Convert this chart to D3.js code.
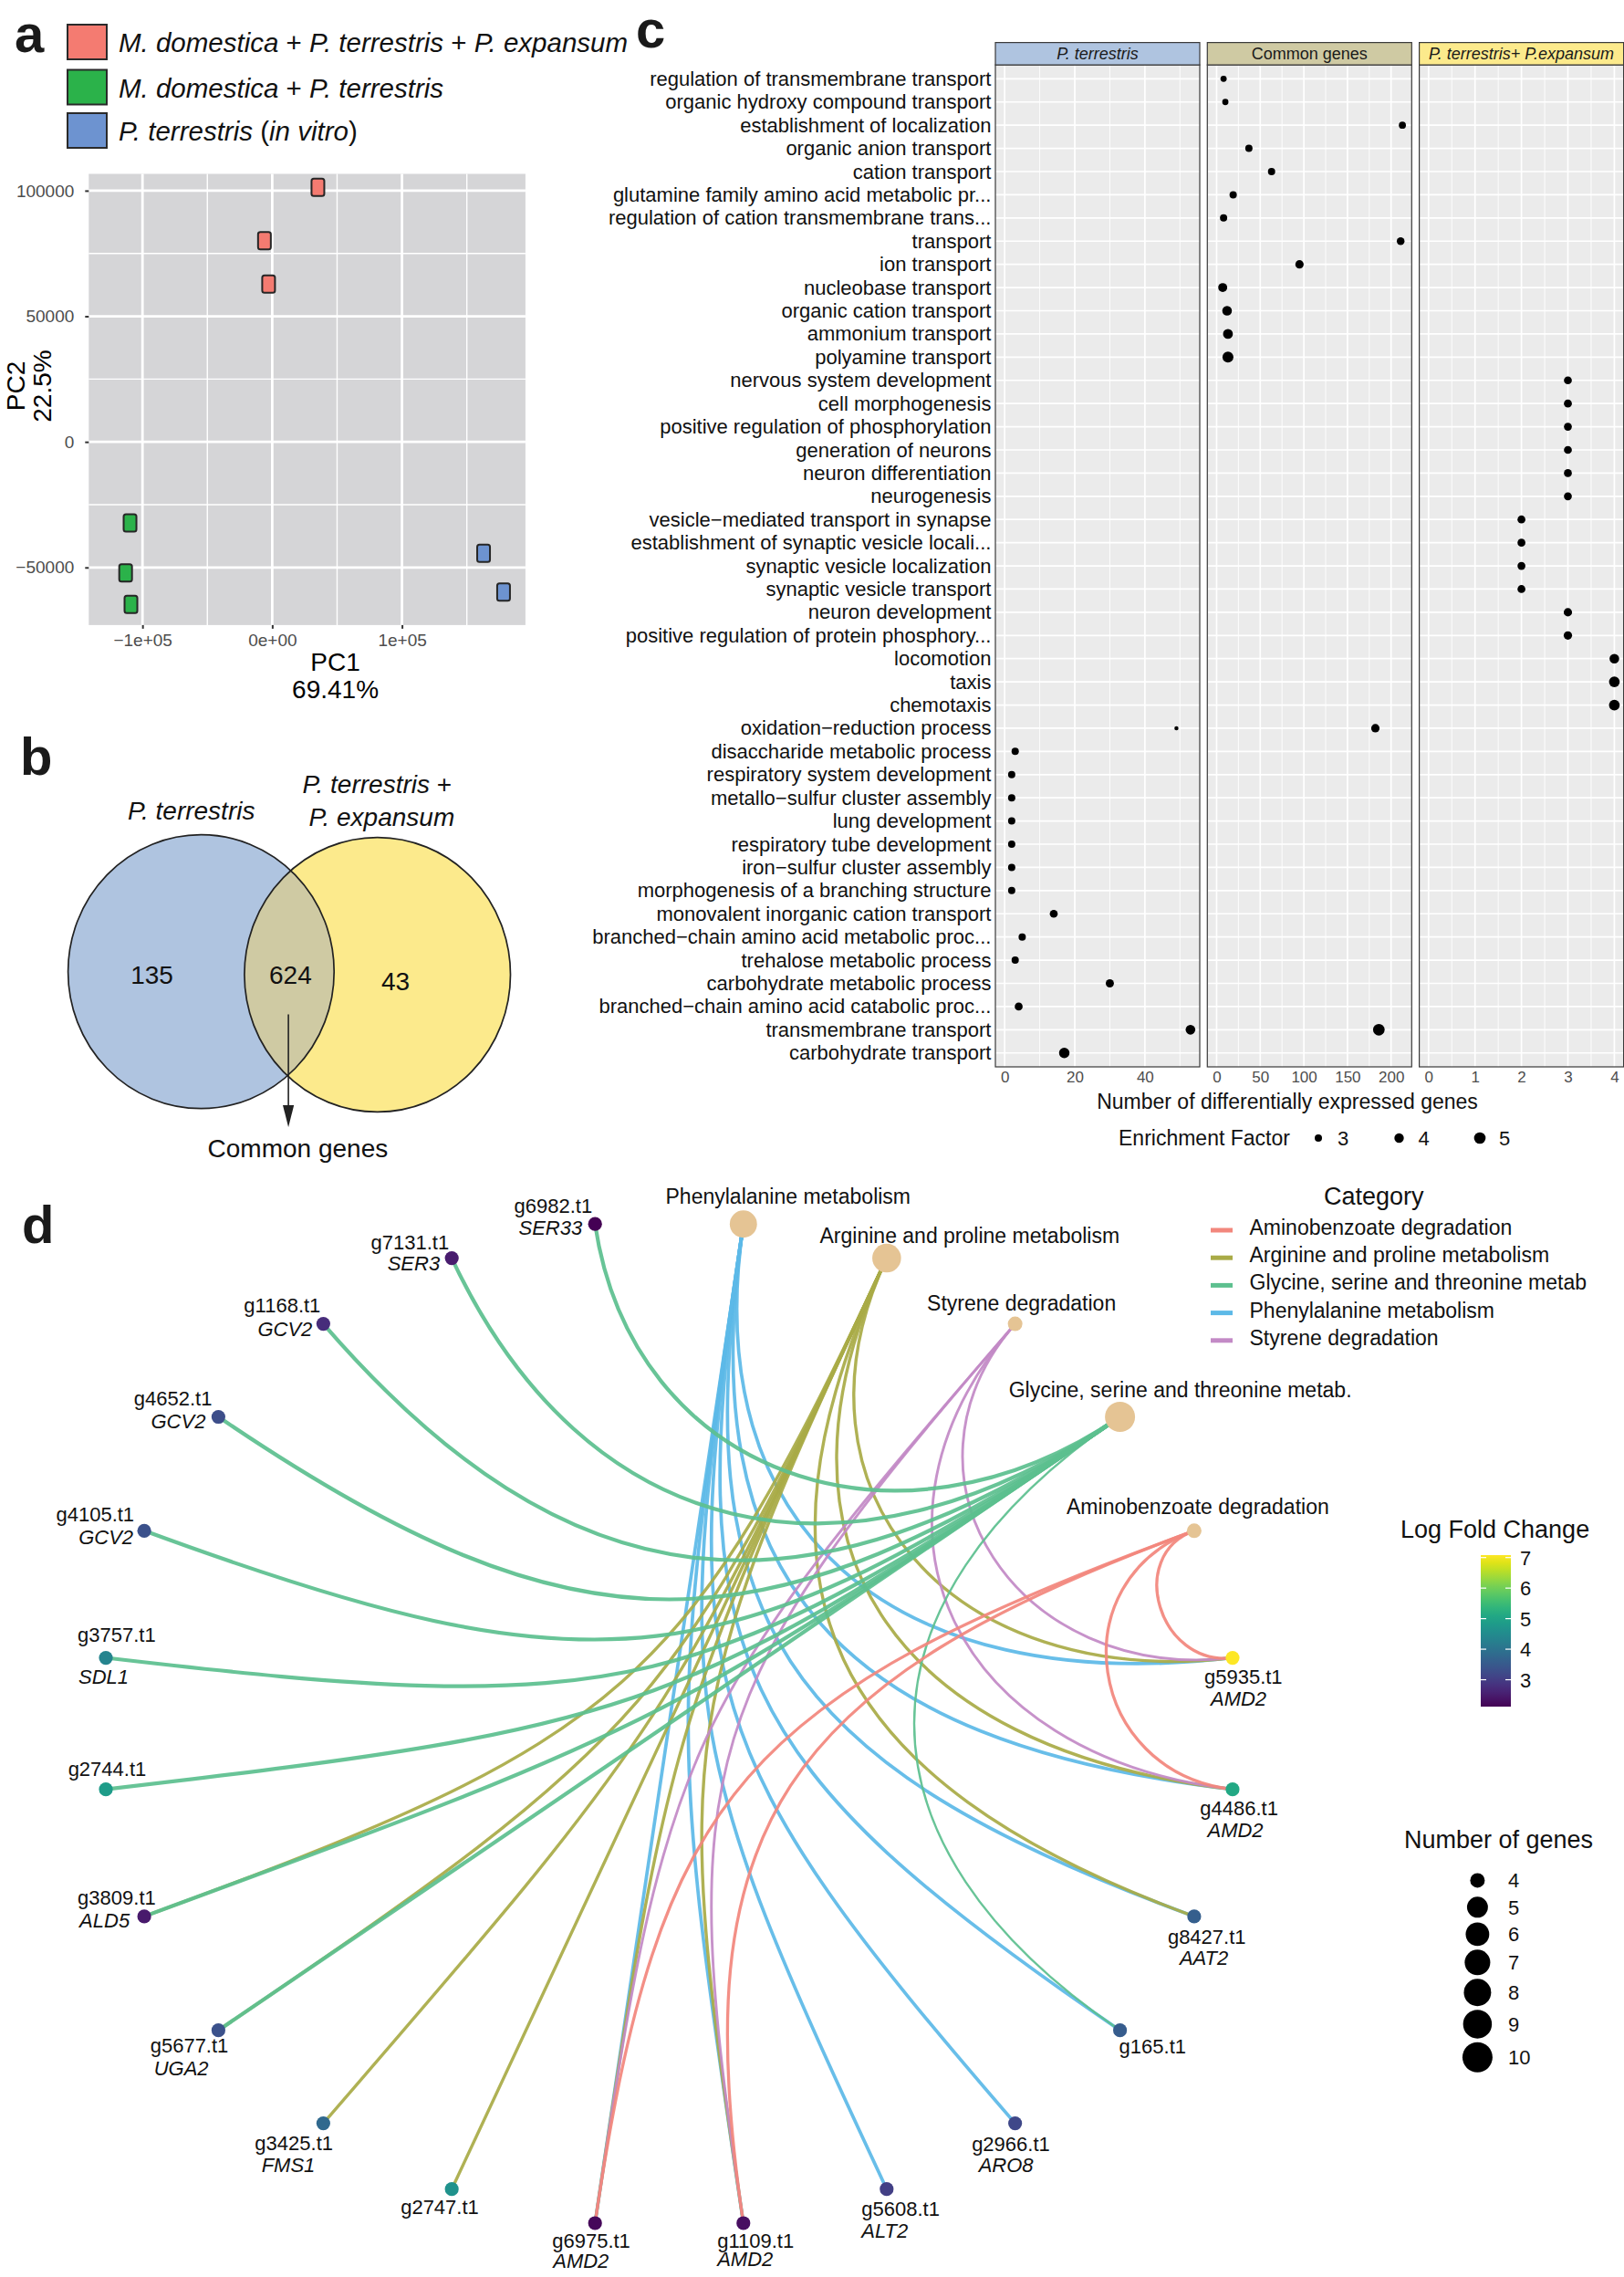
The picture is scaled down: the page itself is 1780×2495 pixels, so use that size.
<!DOCTYPE html>
<html>
<head>
<meta charset="utf-8">
<script src="https://cdn.jsdelivr.net/npm/d3@7"></script>
<style>
html,body{margin:0;padding:0;background:#fff;}
svg{display:block;}
</style>
</head>
<body>
<script>
// ======================= DATA =======================
// --- Panel a: PCA ---
const pcaGroupNames = ["*M. domestica* + *P. terrestris* + *P. expansum*", "*M. domestica* + *P. terrestris*", "*P. terrestris* (*in vitro*)"];
const pcaSampleGroup = [0, 0, 0, 1, 1, 1, 2, 2];
const pcaPC1 = [35200, -6000, -2800, -109600, -113000, -108900, 162900, 178300];
const pcaPC2 = [101300, 80100, 62800, -32300, -52200, -64700, -44400, -59800];
const pcaXTicks = [-100000, 0, 100000];
const pcaXTickLabels = ["\u22121e+05", "0e+00", "1e+05"];
const pcaYTicks = [-50000, 0, 50000, 100000];
const pcaYTickLabels = ["\u221250000", "0", "50000", "100000"];
const pcaXMinor = [-50000, 50000, 150000];
const pcaYMinor = [-25000, 25000, 75000];
const pcaXLimits = [-141400, 195150];
const pcaYLimits = [-72930, 106690];
const pcaXTitle = ["PC1", "69.41%"];
const pcaYTitle = ["PC2", "22.5%"];

// --- Panel b: Venn ---
const vennSetLabels = [["*P. terrestris*"], ["*P. terrestris* +", "*P. expansum*"]];
const vennCounts = [135, 624, 43];   // only left, shared, only right
const vennArrowLabel = "Common genes";

// --- Panel c: GO enrichment dot plot ---
const goTerms = [
"regulation of transmembrane transport","organic hydroxy compound transport","establishment of localization",
"organic anion transport","cation transport","glutamine family amino acid metabolic pr...",
"regulation of cation transmembrane trans...","transport","ion transport","nucleobase transport",
"organic cation transport","ammonium transport","polyamine transport","nervous system development",
"cell morphogenesis","positive regulation of phosphorylation","generation of neurons","neuron differentiation",
"neurogenesis","vesicle\u2212mediated transport in synapse","establishment of synaptic vesicle locali...",
"synaptic vesicle localization","synaptic vesicle transport","neuron development",
"positive regulation of protein phosphory...","locomotion","taxis","chemotaxis",
"oxidation\u2212reduction process","disaccharide metabolic process","respiratory system development",
"metallo\u2212sulfur cluster assembly","lung development","respiratory tube development",
"iron\u2212sulfur cluster assembly","morphogenesis of a branching structure","monovalent inorganic cation transport",
"branched\u2212chain amino acid metabolic proc...","trehalose metabolic process","carbohydrate metabolic process",
"branched\u2212chain amino acid catabolic proc...","transmembrane transport","carbohydrate transport"];
const facetNames = ["P. terrestris", "Common genes", "P. terrestris+ P.expansum"];
const facetItalic = [true, false, true];
const facetTicks = [[0, 20, 40], [0, 50, 100, 150, 200], [0, 1, 2, 3, 4]];
// P. terrestris facet
const ptTerms = ["oxidation\u2212reduction process","disaccharide metabolic process","respiratory system development",
"metallo\u2212sulfur cluster assembly","lung development","respiratory tube development","iron\u2212sulfur cluster assembly",
"morphogenesis of a branching structure","monovalent inorganic cation transport","branched\u2212chain amino acid metabolic proc...",
"trehalose metabolic process","carbohydrate metabolic process","branched\u2212chain amino acid catabolic proc...",
"transmembrane transport","carbohydrate transport"];
const ptCounts = [49, 3, 2, 2, 2, 2, 2, 2, 14, 5, 3, 30, 4, 53, 17];
const ptEF = [1.5, 3.0, 3.0, 3.0, 3.0, 3.0, 3.0, 3.0, 3.3, 3.0, 3.0, 3.4, 3.3, 4.1, 4.5];
// Common genes facet
const cgTerms = ["regulation of transmembrane transport","organic hydroxy compound transport","establishment of localization",
"organic anion transport","cation transport","glutamine family amino acid metabolic pr...",
"regulation of cation transmembrane trans...","transport","ion transport","nucleobase transport",
"organic cation transport","ammonium transport","polyamine transport","oxidation\u2212reduction process","transmembrane transport"];
const cgCounts = [8, 10, 213, 37, 63, 19, 8, 211, 95, 7, 12, 13, 13, 182, 186];
const cgEF = [2.5, 2.5, 2.9, 3.0, 3.0, 3.0, 3.0, 3.2, 3.5, 3.8, 4.1, 4.2, 4.7, 3.5, 5.0];
// P. terrestris + P. expansum facet
const peTerms = ["nervous system development","cell morphogenesis","positive regulation of phosphorylation",
"generation of neurons","neuron differentiation","neurogenesis","vesicle\u2212mediated transport in synapse",
"establishment of synaptic vesicle locali...","synaptic vesicle localization","synaptic vesicle transport",
"neuron development","positive regulation of protein phosphory...","locomotion","taxis","chemotaxis"];
const peCounts = [3, 3, 3, 3, 3, 3, 2, 2, 2, 2, 3, 3, 4, 4, 4];
const peEF = [3.3, 3.3, 3.3, 3.3, 3.3, 3.3, 3.3, 3.3, 3.3, 3.3, 3.5, 3.5, 4.1, 4.6, 4.6];
const efLegendBreaks = [3, 4, 5];
const goXTitle = "Number of differentially expressed genes";
const efLegendTitle = "Enrichment Factor";

// --- Panel d: KEGG gene-concept network ---
const keggCategories = ["Phenylalanine metabolism", "Arginine and proline metabolism", "Styrene degradation",
  "Glycine, serine and threonine metab.", "Aminobenzoate degradation"];
const keggCategorySize = [8, 9, 4, 10, 4];
const geneIds = ["g5935.t1","g4486.t1","g8427.t1","g165.t1","g2966.t1","g5608.t1","g1109.t1","g6975.t1",
  "g2747.t1","g3425.t1","g5677.t1","g3809.t1","g2744.t1","g3757.t1","g4105.t1","g4652.t1","g1168.t1","g7131.t1","g6982.t1"];
const geneSymbols = ["AMD2","AMD2","AAT2","","ARO8","ALT2","AMD2","AMD2",
  "","FMS1","UGA2","ALD5","","SDL1","GCV2","GCV2","GCV2","SER3","SER33"];
const geneLogFC = [7.08, 5.1, 3.6, 3.55, 3.2, 3.05, 2.3, 2.2,
  4.65, 3.8, 3.35, 2.45, 4.85, 4.35, 3.35, 3.3, 2.75, 2.5, 2.12];
const keggGenes = [
  ["g5935.t1","g4486.t1","g8427.t1","g165.t1","g2966.t1","g5608.t1","g1109.t1","g6975.t1"],
  ["g5935.t1","g4486.t1","g8427.t1","g1109.t1","g6975.t1","g2747.t1","g3425.t1","g5677.t1","g3809.t1"],
  ["g5935.t1","g4486.t1","g1109.t1","g6975.t1"],
  ["g165.t1","g5677.t1","g3809.t1","g2744.t1","g3757.t1","g4105.t1","g4652.t1","g1168.t1","g7131.t1","g6982.t1"],
  ["g5935.t1","g4486.t1","g1109.t1","g6975.t1"]];
const categoryLegendLabels = ["Aminobenzoate degradation", "Arginine and proline metabolism",
  "Glycine, serine and threonine metab", "Phenylalanine metabolism", "Styrene degradation"];
const categoryLegendIndex = [4, 1, 3, 0, 2];
const lfcTicks = [3, 4, 5, 6, 7];
const sizeLegendBreaks = [4, 5, 6, 7, 8, 9, 10];

// ======================= STYLE / LAYOUT =======================
const FONT = "'Liberation Sans', Arial, Helvetica, sans-serif";
const pcaColors = ["#F47B71", "#2BB24A", "#6D93D0"];
const vennColors = {left: "#AFC4E0", right: "#FCEA8C", both: "#CFCAA3"};
const facetStripColors = ["#AFC4E0", "#CFCAA3", "#FCEA8C"];
const catColors = ["#5DB9E7", "#A9AB47", "#C38AC6", "#5DC08F", "#F2877D"];
const catWidths = [3.7, 3.4, 2.9, 4.2, 3.3];
const thinEdges = [["Glycine, serine and threonine metab.", "g165.t1"]];
const catNodeColor = "#E5C494";

const catLabelLayout = [[49, -22.5], [91, -17], [7, -14.6], [66, -22], [4, -18.4]];
const geneLabelLayout = {
 "g5935.t1": {a:"start", id:[-31,28.8], nm:[-24,52.5]},
 "g4486.t1": {a:"start", id:[-35.7,28.6], nm:[-27.5,52]},
 "g8427.t1": {a:"start", id:[-29,30.6], nm:[-16,53]},
 "g165.t1":  {a:"start", id:[-1,25.6]},
 "g2966.t1": {a:"start", id:[-47.5,30.7], nm:[-40,53]},
 "g5608.t1": {a:"start", id:[-27.5,29.4], nm:[-27.5,53]},
 "g1109.t1": {a:"start", id:[-28.6,26.6], nm:[-28.6,47.5]},
 "g6975.t1": {a:"start", id:[-47,27.4], nm:[-46,49.5]},
 "g2747.t1": {a:"start", id:[-56,27]},
 "g3425.t1": {a:"start", id:[-75,29.5], nm:[-67.7,53]},
 "g5677.t1": {a:"start", id:[-74.7,24.8], nm:[-70.7,49]},
 "g3809.t1": {a:"start", id:[-73,-12.5], nm:[-71,12]},
 "g2744.t1": {a:"start", id:[-41.4,-14.5]},
 "g3757.t1": {a:"start", id:[-31,-17.6], nm:[-30,28]},
 "g4105.t1": {a:"end", id:[-11,-10], nm:[-12,15]},
 "g4652.t1": {a:"end", id:[-7,-13], nm:[-14,12.7]},
 "g1168.t1": {a:"end", id:[-3,-13], nm:[-12,13]},
 "g7131.t1": {a:"end", id:[-3,-10], nm:[-13,13.5]},
 "g6982.t1": {a:"end", id:[-3,-12], nm:[-14,12]}
};

// ======================= DRAW =======================
const svg = d3.select("body").append("svg").attr("width", 1780).attr("height", 2495)
  .style("font-family", FONT);
svg.append("rect").attr("width", 1780).attr("height", 2495).attr("fill", "#fff");
const defs = svg.append("defs");

function rich(g, str, attrs) {
  const t = g.append("text");
  Object.entries(attrs).forEach(([k, v]) => t.attr(k, v));
  str.split("*").forEach((s, i) => { if (s.length) t.append("tspan").attr("font-style", i % 2 ? "italic" : "normal").text(s); });
  return t;
}
function letter(t, x, y) {
  svg.append("text").attr("x", x).attr("y", y).attr("font-size", 58).attr("font-weight", "bold")
    .attr("fill", "#1a1a1a").text(t);
}
letter("a", 16, 57); letter("b", 22, 849); letter("c", 697, 52); letter("d", 24, 1362);

// ---------- Panel a ----------
(function () {
  const g = svg.append("g");
  const P = {l: 97.3, r: 575.9, t: 190.5, b: 684.9};
  const x = d3.scaleLinear().domain(pcaXLimits).range([P.l, P.r]);
  const y = d3.scaleLinear().domain(pcaYLimits).range([P.b, P.t]);
  const legY = [46, 95.5, 143];
  pcaGroupNames.forEach((nm, i) => {
    g.append("rect").attr("x", 74).attr("y", legY[i] - 19).attr("width", 43).attr("height", 38)
      .attr("fill", pcaColors[i]).attr("stroke", "#2a2a2a").attr("stroke-width", 2);
    rich(g, nm, {x: 130, y: legY[i] + 11, "font-size": 29.5, fill: "#111"});
  });
  g.append("rect").attr("x", P.l).attr("y", P.t).attr("width", P.r - P.l).attr("height", P.b - P.t).attr("fill", "#D5D5D7");
  const grid = g.append("g").attr("stroke", "#fff");
  pcaXMinor.forEach(v => grid.append("line").attr("x1", x(v)).attr("x2", x(v)).attr("y1", P.t).attr("y2", P.b).attr("stroke-width", 1.4));
  pcaYMinor.forEach(v => grid.append("line").attr("y1", y(v)).attr("y2", y(v)).attr("x1", P.l).attr("x2", P.r).attr("stroke-width", 1.4));
  pcaXTicks.forEach(v => grid.append("line").attr("x1", x(v)).attr("x2", x(v)).attr("y1", P.t).attr("y2", P.b).attr("stroke-width", 2.8));
  pcaYTicks.forEach(v => grid.append("line").attr("y1", y(v)).attr("y2", y(v)).attr("x1", P.l).attr("x2", P.r).attr("stroke-width", 2.8));
  const ya = g.append("g").attr("transform", `translate(${P.l},0)`)
    .call(d3.axisLeft(y).tickValues(pcaYTicks).tickFormat((d, i) => pcaYTickLabels[i]).tickSize(4).tickPadding(12));
  const xa = g.append("g").attr("transform", `translate(0,${P.b})`)
    .call(d3.axisBottom(x).tickValues(pcaXTicks).tickFormat((d, i) => pcaXTickLabels[i]).tickSize(4).tickPadding(5.6));
  [ya, xa].forEach(a => {
    a.select(".domain").remove();
    a.selectAll(".tick line").attr("stroke", "#333").attr("stroke-width", 2);
    a.selectAll(".tick text").attr("fill", "#4D4D4D").attr("font-size", 19).attr("font-family", FONT);
  });
  g.selectAll("rect.pt").data(d3.range(pcaPC1.length)).join("rect").attr("class", "pt")
    .attr("x", i => x(pcaPC1[i]) - 7).attr("y", i => y(pcaPC2[i]) - 9.5)
    .attr("width", 14).attr("height", 19).attr("rx", 2.5)
    .attr("fill", i => pcaColors[pcaSampleGroup[i]]).attr("stroke", "#262626").attr("stroke-width", 2);
  const cx = (P.l + P.r) / 2 + 31;
  g.append("text").attr("x", cx).attr("y", 735).attr("text-anchor", "middle").attr("font-size", 28).text(pcaXTitle[0]);
  g.append("text").attr("x", cx).attr("y", 765).attr("text-anchor", "middle").attr("font-size", 28).text(pcaXTitle[1]);
  g.append("text").attr("transform", "translate(27,423) rotate(-90)").attr("text-anchor", "middle").attr("font-size", 28).text(pcaYTitle[0]);
  g.append("text").attr("transform", "translate(56,423) rotate(-90)").attr("text-anchor", "middle").attr("font-size", 28).text(pcaYTitle[1]);
})();

// ---------- Panel b ----------
(function () {
  const g = svg.append("g");
  const L = {cx: 220.4, cy: 1064.7, rx: 145.8, ry: 150};
  const R = {cx: 413.7, cy: 1068, rx: 145.8, ry: 150.4};
  defs.append("clipPath").attr("id", "vennClipL").append("ellipse")
    .attr("cx", L.cx).attr("cy", L.cy).attr("rx", L.rx).attr("ry", L.ry);
  const ell = (e) => g.append("ellipse").attr("cx", e.cx).attr("cy", e.cy).attr("rx", e.rx).attr("ry", e.ry);
  ell(L).attr("fill", vennColors.left);
  ell(R).attr("fill", vennColors.right);
  ell(R).attr("fill", vennColors.both).attr("clip-path", "url(#vennClipL)");
  ell(L).attr("fill", "none").attr("stroke", "#222").attr("stroke-width", 1.7);
  ell(R).attr("fill", "none").attr("stroke", "#222").attr("stroke-width", 1.7);
  const numPos = [[166.5, 1078], [318.4, 1078], [433.6, 1085]];
  vennCounts.forEach((v, i) => g.append("text").attr("x", numPos[i][0]).attr("y", numPos[i][1])
    .attr("text-anchor", "middle").attr("font-size", 28).attr("fill", "#111").text(v));
  rich(g, vennSetLabels[0][0], {x: 209.7, y: 897.7, "text-anchor": "middle", "font-size": 28, fill: "#111"});
  rich(g, vennSetLabels[1][0], {x: 413.3, y: 868.9, "text-anchor": "middle", "font-size": 28, fill: "#111"});
  rich(g, vennSetLabels[1][1], {x: 418.3, y: 905.3, "text-anchor": "middle", "font-size": 28, fill: "#111"});
  g.append("line").attr("x1", 316.1).attr("x2", 316.1).attr("y1", 1111.6).attr("y2", 1215).attr("stroke", "#222").attr("stroke-width", 1.6);
  g.append("path").attr("d", "M310,1211 L322.2,1211 L316.1,1235 Z").attr("fill", "#222");
  g.append("text").attr("x", 326.4).attr("y", 1267.5).attr("text-anchor", "middle").attr("font-size", 28).attr("fill", "#111").text(vennArrowLabel);
})();

// ---------- Panel c ----------
(function () {
  const g = svg.append("g");
  const top = 71.1, bot = 1169, stripTop = 46.6;
  const facetX = [[1091, 1315], [1323.3, 1547.3], [1555.6, 1779.6]];
  const y = d3.scalePoint().domain(goTerms).range([top, bot]).padding(0.6);
  const r = d3.scaleLinear().domain([3, 5]).range([4, 6.35]);
  const facets = [
    {terms: ptTerms, counts: ptCounts, ef: ptEF},
    {terms: cgTerms, counts: cgCounts, ef: cgEF},
    {terms: peTerms, counts: peCounts, ef: peEF}];
  facets.forEach((fd, k) => {
    const [x0, x1] = facetX[k];
    const ext = [Math.min(0, d3.min(fd.counts)), d3.max(fd.counts)];
    const pad = (ext[1] - ext[0]) * 0.05;
    const x = d3.scaleLinear().domain([ext[0] - pad, ext[1] + pad]).range([x0, x1]);
    g.append("rect").attr("x", x0).attr("y", top).attr("width", x1 - x0).attr("height", bot - top).attr("fill", "#EBEBEB");
    const ticks = facetTicks[k];
    const step = ticks[1] - ticks[0];
    const minor = d3.range(ticks[0] - step / 2, ticks[ticks.length - 1] + step, step)
      .filter(v => v > x.domain()[0] && v < x.domain()[1]);
    minor.forEach(v => g.append("line").attr("x1", x(v)).attr("x2", x(v)).attr("y1", top).attr("y2", bot).attr("stroke", "#fff").attr("stroke-width", 0.9));
    goTerms.forEach(t => g.append("line").attr("x1", x0).attr("x2", x1).attr("y1", y(t)).attr("y2", y(t)).attr("stroke", "#fff").attr("stroke-width", 1.7));
    ticks.forEach(v => g.append("line").attr("x1", x(v)).attr("x2", x(v)).attr("y1", top).attr("y2", bot).attr("stroke", "#fff").attr("stroke-width", 1.7));
    g.selectAll(null).data(fd.terms).join("circle")
      .attr("cx", (d, i) => x(fd.counts[i])).attr("cy", d => y(d)).attr("r", (d, i) => r(fd.ef[i])).attr("fill", "#000");
    g.append("rect").attr("x", x0).attr("y", top).attr("width", x1 - x0).attr("height", bot - top)
      .attr("fill", "none").attr("stroke", "#3a3a3a").attr("stroke-width", 1.2);
    g.append("rect").attr("x", x0).attr("y", stripTop).attr("width", x1 - x0).attr("height", top - stripTop)
      .attr("fill", facetStripColors[k]).attr("stroke", "#3a3a3a").attr("stroke-width", 1.2);
    g.append("text").attr("x", (x0 + x1) / 2).attr("y", 65.3).attr("text-anchor", "middle").attr("font-size", 18)
      .attr("font-style", facetItalic[k] ? "italic" : "normal").attr("fill", "#1a1a1a").text(facetNames[k]);
    const ax = g.append("g").attr("transform", `translate(0,${bot})`)
      .call(d3.axisBottom(x).tickValues(ticks).tickFormat(d3.format("d")).tickSize(0).tickPadding(4.5));
    ax.select(".domain").remove();
    ax.selectAll(".tick text").attr("fill", "#4D4D4D").attr("font-size", 17).attr("font-family", FONT);
  });
  const ya = g.append("g").attr("transform", `translate(1091,0)`)
    .call(d3.axisLeft(y).tickSize(0).tickPadding(4.6));
  ya.select(".domain").remove();
  ya.selectAll(".tick text").attr("fill", "#111").attr("font-size", 22).attr("font-family", FONT);
  g.append("text").attr("x", 1411).attr("y", 1215).attr("text-anchor", "middle").attr("font-size", 23).attr("fill", "#111").text(goXTitle);
  g.append("text").attr("x", 1226).attr("y", 1255).attr("font-size", 23).attr("fill", "#111").text(efLegendTitle);
  efLegendBreaks.forEach((v, i) => {
    const cx = 1445 + i * 88.5;
    g.append("circle").attr("cx", cx).attr("cy", 1247).attr("r", r(v)).attr("fill", "#000");
    g.append("text").attr("x", cx + 21).attr("y", 1255).attr("font-size", 22).attr("fill", "#111").text(v);
  });
})();

// ---------- Panel d ----------
(function () {
  const g = svg.append("g");
  const C = {x: 733.5, y: 1888.6, rx: 622.8, ry: 552.1};
  const nodes = [...keggCategories, ...geneIds];
  const ang = d3.scaleLinear().domain([0, nodes.length]).range([0, 2 * Math.PI]);
  const pos = {};
  nodes.forEach((id, i) => {
    const a = ang(i + 0.5);
    pos[id] = {a, x: C.x + C.rx * Math.sin(a), y: C.y - C.ry * Math.cos(a)};
  });
  const lfcExt = d3.extent(geneLogFC);
  const color = d3.scaleSequential(d3.interpolateViridis).domain(lfcExt);
  const sizeExt = d3.extent(sizeLegendBreaks);
  const rS = d3.scaleLinear().domain([0, 1]).range([8, 16.5]);
  const catR = n => rS(Math.sqrt((n - sizeExt[0]) / (sizeExt[1] - sizeExt[0])));

  const eg = g.append("g").attr("fill", "none").attr("stroke-linecap", "round");
  keggCategories.forEach((cat, ci) => {
    keggGenes[ci].forEach(gene => {
      const p0 = pos[cat], p3 = pos[gene];
      let d = Math.abs(p0.a - p3.a);
      if (d > Math.PI) d = 2 * Math.PI - d;
      const f = Math.sin(d / 2);
      const p1 = {x: C.x + (p0.x - C.x) * (1 - f), y: C.y + (p0.y - C.y) * (1 - f)};
      const p2 = {x: C.x + (p3.x - C.x) * (1 - f), y: C.y + (p3.y - C.y) * (1 - f)};
      const path = d3.path();
      path.moveTo(p0.x, p0.y);
      path.bezierCurveTo(p1.x, p1.y, p2.x, p2.y, p3.x, p3.y);
      const thin = thinEdges.some(e => e[0] === cat && e[1] === gene);
      eg.append("path").attr("d", path.toString()).attr("stroke", catColors[ci])
        .attr("stroke-width", thin ? 2.4 : catWidths[ci]).attr("stroke-opacity", 0.93);
    });
  });
  keggCategories.forEach((cat, ci) => {
    const p = pos[cat];
    g.append("circle").attr("cx", p.x).attr("cy", p.y).attr("r", catR(keggCategorySize[ci])).attr("fill", catNodeColor);
    g.append("text").attr("x", p.x + catLabelLayout[ci][0]).attr("y", p.y + catLabelLayout[ci][1])
      .attr("text-anchor", "middle").attr("font-size", 23).attr("fill", "#111").text(cat);
  });
  geneIds.forEach((id, i) => {
    const p = pos[id];
    g.append("circle").attr("cx", p.x).attr("cy", p.y).attr("r", 7.6).attr("fill", color(geneLogFC[i]));
    const L = geneLabelLayout[id];
    g.append("text").attr("x", p.x + L.id[0]).attr("y", p.y + L.id[1]).attr("text-anchor", L.a)
      .attr("font-size", 22).attr("fill", "#111").text(id);
    if (geneSymbols[i] && L.nm) {
      g.append("text").attr("x", p.x + L.nm[0]).attr("y", p.y + L.nm[1]).attr("text-anchor", L.a)
        .attr("font-size", 22).attr("font-style", "italic").attr("fill", "#111").text(geneSymbols[i]);
    }
  });

  g.append("text").attr("x", 1451).attr("y", 1320).attr("font-size", 27).attr("fill", "#111").text("Category");
  categoryLegendLabels.forEach((lab, i) => {
    const by = 1353 + i * 30.2;
    g.append("line").attr("x1", 1327).attr("x2", 1351).attr("y1", by - 5).attr("y2", by - 5)
      .attr("stroke", catColors[categoryLegendIndex[i]]).attr("stroke-width", 5);
    g.append("text").attr("x", 1369.5).attr("y", by).attr("font-size", 23).attr("fill", "#111").text(lab);
  });

  g.append("text").attr("x", 1535).attr("y", 1685).attr("font-size", 27).attr("fill", "#111").text("Log Fold Change");
  const bar = {x: 1623, w: 33, top: 1704, bot: 1870};
  const yc = d3.scaleLinear().domain(lfcExt).range([bar.bot, bar.top]);
  const grad = defs.append("linearGradient").attr("id", "lfcGrad").attr("x1", 0).attr("x2", 0).attr("y1", 1).attr("y2", 0);
  d3.range(0, 1.0001, 0.05).forEach(t => grad.append("stop").attr("offset", t)
    .attr("stop-color", color(lfcExt[0] + t * (lfcExt[1] - lfcExt[0]))));
  g.append("rect").attr("x", bar.x).attr("y", bar.top).attr("width", bar.w).attr("height", bar.bot - bar.top).attr("fill", "url(#lfcGrad)");
  lfcTicks.forEach(v => {
    const yy = yc(v);
    g.append("line").attr("x1", bar.x).attr("x2", bar.x + 6).attr("y1", yy).attr("y2", yy).attr("stroke", "#fff").attr("stroke-width", 1.2);
    g.append("line").attr("x1", bar.x + bar.w - 6).attr("x2", bar.x + bar.w).attr("y1", yy).attr("y2", yy).attr("stroke", "#fff").attr("stroke-width", 1.2);
    g.append("text").attr("x", 1666).attr("y", yy + 8).attr("font-size", 22).attr("fill", "#111").text(v);
  });

  g.append("text").attr("x", 1539).attr("y", 2025).attr("font-size", 27).attr("fill", "#111").text("Number of genes");
  let cy = 2060.4, prevH = null;
  sizeLegendBreaks.forEach(v => {
    const rr = catR(v);
    const h = Math.max(29.4, 2 * rr + 4);
    if (prevH !== null) cy += (prevH + h) / 2;
    prevH = h;
    g.append("circle").attr("cx", 1619.4).attr("cy", cy).attr("r", rr).attr("fill", "#000");
    g.append("text").attr("x", 1653).attr("y", cy + 8).attr("font-size", 22).attr("fill", "#111").text(v);
  });
})();
</script>
</body>
</html>
